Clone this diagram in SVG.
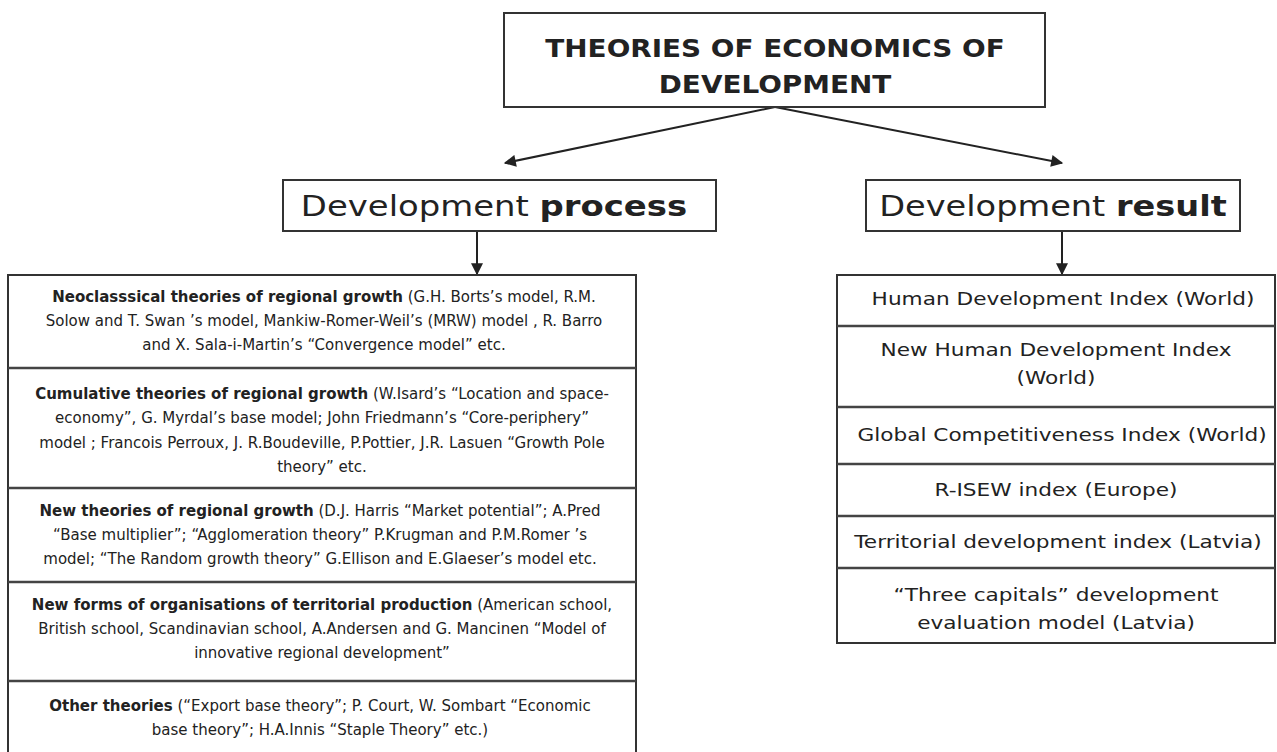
<svg xmlns="http://www.w3.org/2000/svg" width="1277" height="752" viewBox="0 0 1277 752">
<style>
.box{fill:#fff;stroke:#333;stroke-width:2}
.sep{stroke:#444;stroke-width:2.5}
.t{font-family:"DejaVu Sans",Verdana,sans-serif;fill:#222;text-anchor:middle}
.l{font-size:15px}
.r{font-size:18.5px}
.b{font-weight:bold}
.con{stroke:#222;stroke-width:2;fill:none;marker-end:url(#ah)}
</style>
<defs>
<marker id="ah" viewBox="0 0 10 10" refX="9" refY="5" markerWidth="13" markerHeight="12" markerUnits="userSpaceOnUse" orient="auto"><path d="M0,0 L10,5 L0,10 z" fill="#222"/></marker>
</defs>
<rect width="1277" height="752" fill="#fff"/>
<g id="connectors">
<line class="con" x1="775" y1="107" x2="505" y2="163"/>
<line class="con" x1="775" y1="107" x2="1062" y2="163"/>
<line class="con" x1="477" y1="231" x2="477" y2="274"/>
<line class="con" x1="1062" y1="231" x2="1062" y2="274"/>
</g>
<g id="title">
<rect class="box" x="504" y="13" width="541" height="94"/>
<text class="t b" font-size="24" transform="translate(775,57) scale(1.16,1)">THEORIES OF ECONOMICS OF</text>
<text class="t b" font-size="24" transform="translate(775,93) scale(1.16,1)">DEVELOPMENT</text>
</g>
<g id="process">
<rect class="box" x="283" y="180" width="433" height="51"/>
<text class="t" font-size="28" transform="translate(494,216) scale(1.21,1)">Development <tspan font-weight="bold">process</tspan></text>
</g>
<g id="result">
<rect class="box" x="866" y="180" width="374" height="51"/>
<text class="t" font-size="28" transform="translate(1053,216) scale(1.2,1)">Development <tspan font-weight="bold">result</tspan></text>
</g>
<g id="theories">
<rect class="box" x="8" y="275" width="628" height="480"/>
<line class="sep" x1="8" y1="368" x2="636" y2="368"/>
<line class="sep" x1="8" y1="488" x2="636" y2="488"/>
<line class="sep" x1="8" y1="582" x2="636" y2="582"/>
<line class="sep" x1="8" y1="681" x2="636" y2="681"/>
<text class="t l" x="324" y="302"><tspan font-weight="bold">Neoclasssical theories of regional growth</tspan>  (G.H. Borts’s model, R.M.</text>
<text class="t l" x="324" y="326">Solow  and T. Swan ’s model, Mankiw-Romer-Weil’s (MRW) model , R. Barro</text>
<text class="t l" x="324" y="350">and X.  Sala-i-Martin’s “Convergence model” etc.</text>
<text class="t l" x="322" y="399"><tspan font-weight="bold">Cumulative theories of regional growth</tspan> (W.Isard’s “Location and space-</text>
<text class="t l" x="322" y="423">economy”, G. Myrdal’s base model; John Friedmann’s “Core-periphery”</text>
<text class="t l" x="322" y="448">model ; Francois Perroux, J. R.Boudeville, P.Pottier, J.R. Lasuen “Growth Pole</text>
<text class="t l" x="322" y="472">theory” etc.</text>
<text class="t l" x="320" y="516"><tspan font-weight="bold">New theories of regional growth</tspan> (D.J. Harris “Market potential”; A.Pred</text>
<text class="t l" x="320" y="540">“Base multiplier”; “Agglomeration theory” P.Krugman and  P.M.Romer ’s</text>
<text class="t l" x="320" y="564">model; “The Random growth theory” G.Ellison and E.Glaeser’s model etc.</text>
<text class="t l" x="322" y="610"><tspan font-weight="bold">New forms of organisations of territorial production</tspan> (American school,</text>
<text class="t l" x="322" y="634">British school, Scandinavian school, A.Andersen and G. Mancinen “Model of</text>
<text class="t l" x="322" y="658">innovative regional development”</text>
<text class="t l" x="320" y="711"><tspan font-weight="bold">Other theories</tspan> (“Export base theory”; P. Court,  W. Sombart “Economic</text>
<text class="t l" x="320" y="735">base theory”; H.A.Innis “Staple Theory” etc.)</text>
</g>
<g id="indices">
<rect class="box" x="837" y="275" width="438" height="368"/>
<line class="sep" x1="837" y1="326" x2="1275" y2="326"/>
<line class="sep" x1="837" y1="407" x2="1275" y2="407"/>
<line class="sep" x1="837" y1="464" x2="1275" y2="464"/>
<line class="sep" x1="837" y1="516" x2="1275" y2="516"/>
<line class="sep" x1="837" y1="568" x2="1275" y2="568"/>
<text class="t r" transform="translate(1063,305) scale(1.17,1)">Human Development Index (World)</text>
<text class="t r" transform="translate(1056,356) scale(1.17,1)">New Human Development Index</text>
<text class="t r" transform="translate(1056,384) scale(1.17,1)">(World)</text>
<text class="t r" transform="translate(1062,441) scale(1.17,1)">Global Competitiveness Index (World)</text>
<text class="t r" transform="translate(1056,496) scale(1.17,1)">R-ISEW index (Europe)</text>
<text class="t r" transform="translate(1058,548) scale(1.17,1)">Territorial development index  (Latvia)</text>
<text class="t r" transform="translate(1056,601) scale(1.17,1)">“Three capitals” development</text>
<text class="t r" transform="translate(1056,629) scale(1.17,1)">evaluation model (Latvia)</text>
</g>
</svg>
